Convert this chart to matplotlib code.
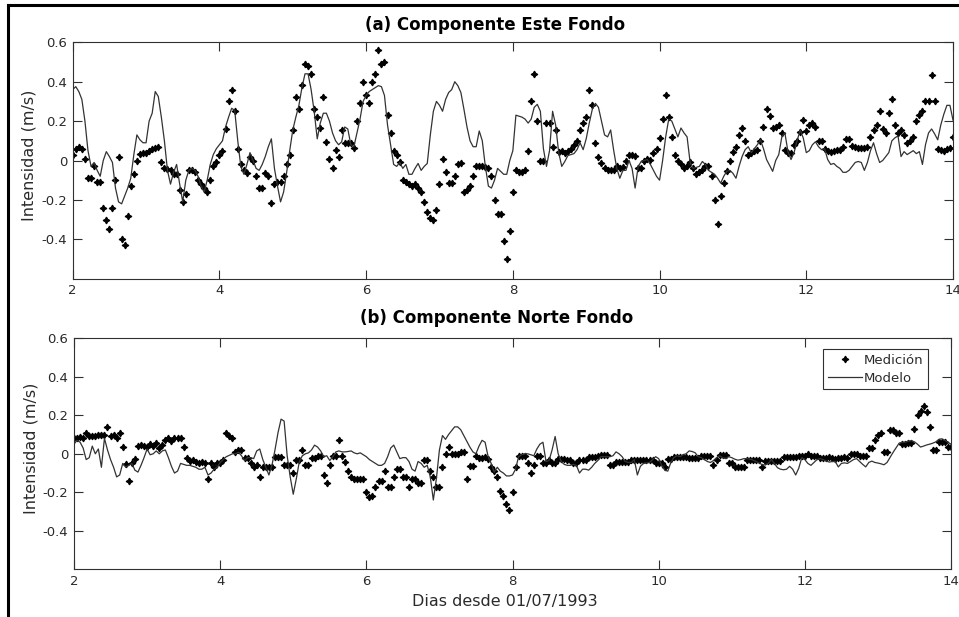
import numpy as np
import matplotlib
matplotlib.use("Agg")
import matplotlib.pyplot as plt
from matplotlib.lines import Line2D

plt.rcParams['font.family'] = ['DejaVu Sans']
plt.rcParams['axes.unicode_minus'] = False

# ---------------- data (hourly samples from day 2 to day 14) ----------------
este_medicion = [
    0.03, 0.06, 0.07, 0.06, 0.01, -0.09, -0.09, -0.03, -0.11, -0.11, -0.24, -0.30, -0.35, -0.24, -0.10, 0.02, -0.40, -0.43, -0.28, -0.13, -0.07, 0.0, 0.035, 0.04,
    0.04, 0.05, 0.06, 0.065, 0.07, -0.01, -0.04, -0.045, -0.05, -0.07, -0.07, -0.15, -0.21, -0.17, -0.05, -0.05, -0.06, -0.10, -0.12, -0.14, -0.16, -0.10, -0.03, -0.01,
    0.03, 0.05, 0.16, 0.30, 0.36, 0.25, 0.06, -0.02, -0.05, -0.065, 0.02, 0.0, -0.08, -0.14, -0.14, -0.065, -0.08, -0.215, -0.12, -0.11, -0.11, -0.08, -0.02, 0.03,
    0.155, 0.32, 0.26, 0.385, 0.49, 0.48, 0.44, 0.26, 0.22, 0.165, 0.32, 0.095, 0.01, -0.04, 0.055, 0.02, 0.155, 0.09, 0.09, 0.09, 0.065, 0.20, 0.29, 0.40,
    0.33, 0.29, 0.40, 0.44, 0.56, 0.49, 0.50, 0.23, 0.14, 0.05, 0.03, -0.01, -0.10, -0.11, -0.12, -0.13, -0.12, -0.14, -0.16, -0.21, -0.26, -0.29, -0.30, -0.25,
    -0.12, 0.01, -0.06, -0.115, -0.115, -0.08, -0.02, -0.015, -0.16, -0.15, -0.13, -0.08, -0.03, -0.03, -0.03, -0.035, -0.04, -0.08, -0.20, -0.27, -0.27, -0.41, -0.50, -0.36,
    -0.16, -0.05, -0.06, -0.06, -0.05, 0.05, 0.30, 0.44, 0.20, 0.0, 0.0, 0.19, 0.19, 0.07, 0.155, 0.045, 0.05, 0.04, 0.05, 0.06, 0.08, 0.10, 0.155, 0.19,
    0.22, 0.36, 0.28, 0.09, 0.02, -0.015, -0.04, -0.05, -0.05, -0.05, -0.03, -0.04, -0.035, 0.0, 0.03, 0.03, 0.025, -0.04, -0.04, 0.0, 0.01, 0.005, 0.04, 0.06,
    0.115, 0.21, 0.33, 0.22, 0.12, 0.03, 0.0, -0.02, -0.04, -0.03, -0.01, -0.04, -0.07, -0.06, -0.05, -0.03, -0.03, -0.08, -0.20, -0.32, -0.18, -0.115, -0.055, -0.005,
    0.045, 0.07, 0.13, 0.165, 0.10, 0.03, 0.04, 0.05, 0.055, 0.10, 0.17, 0.26, 0.225, 0.165, 0.17, 0.18, 0.14, 0.055, 0.04, 0.04, 0.08, 0.10, 0.145, 0.205,
    0.15, 0.18, 0.19, 0.17, 0.10, 0.10, 0.06, 0.05, 0.045, 0.05, 0.055, 0.055, 0.07, 0.11, 0.11, 0.075, 0.07, 0.065, 0.065, 0.065, 0.07, 0.12, 0.155, 0.18,
    0.25, 0.16, 0.14, 0.24, 0.31, 0.18, 0.14, 0.155, 0.13, 0.09, 0.10, 0.12, 0.20, 0.23, 0.25, 0.30, 0.30, 0.435, 0.30, 0.06, 0.055, 0.05, 0.06, 0.065,
    0.12,
]

este_modelo = [
    0.36, 0.375, 0.35, 0.31, 0.20, 0.05, -0.03, -0.01, -0.05, -0.08, 0.0, 0.045, 0.02, -0.01, -0.14, -0.21, -0.22, -0.18, -0.14, -0.09, 0.03, 0.13, 0.105, 0.09,
    0.09, 0.20, 0.24, 0.35, 0.325, 0.22, 0.10, -0.05, -0.12, -0.06, -0.02, -0.12, -0.21, -0.10, -0.05, -0.04, -0.05, -0.08, -0.13, -0.16, -0.10, -0.02, 0.03, 0.06,
    0.08, 0.10, 0.17, 0.22, 0.265, 0.255, 0.10, -0.03, -0.07, -0.02, 0.04, 0.0, -0.04, -0.05, -0.02, 0.02, 0.07, 0.11, -0.04, -0.13, -0.21, -0.16, -0.06, 0.05,
    0.155, 0.22, 0.28, 0.37, 0.44, 0.44, 0.36, 0.25, 0.11, 0.19, 0.24, 0.24, 0.20, 0.14, 0.10, 0.08, 0.095, 0.17, 0.16, 0.08, 0.07, 0.14, 0.21, 0.30,
    0.33, 0.35, 0.36, 0.37, 0.38, 0.375, 0.33, 0.18, 0.08, -0.02, -0.03, -0.01, -0.04, -0.02, -0.07, -0.07, -0.04, -0.015, -0.05, -0.03, -0.015, 0.13, 0.25, 0.30,
    0.28, 0.25, 0.31, 0.345, 0.36, 0.40, 0.38, 0.345, 0.26, 0.17, 0.10, 0.07, 0.07, 0.15, 0.10, -0.03, -0.13, -0.14, -0.10, -0.04, -0.055, -0.07, -0.07, 0.0,
    0.05, 0.23, 0.225, 0.22, 0.21, 0.19, 0.21, 0.27, 0.285, 0.25, 0.06, -0.03, 0.05, 0.25, 0.18, 0.04, -0.03, -0.005, 0.025, 0.03, 0.035, 0.055, 0.09, 0.055,
    0.11, 0.19, 0.26, 0.29, 0.27, 0.20, 0.13, 0.12, 0.155, 0.05, -0.04, -0.09, -0.05, -0.05, 0.0, -0.04, -0.14, -0.03, -0.005, 0.0, 0.005, -0.02, -0.05, -0.08,
    -0.10, 0.0, 0.12, 0.21, 0.20, 0.16, 0.12, 0.165, 0.14, 0.12, -0.01, -0.04, -0.035, -0.03, -0.005, -0.02, -0.05, -0.06, -0.07, -0.09, -0.115, -0.08, -0.055, -0.05,
    -0.065, -0.09, -0.03, 0.02, 0.055, 0.07, 0.04, 0.06, 0.08, 0.105, 0.06, 0.005, -0.025, -0.055, 0.0, 0.03, 0.12, 0.14, 0.045, 0.005, 0.04, 0.10, 0.155, 0.115,
    0.04, 0.05, 0.08, 0.095, 0.07, 0.055, 0.06, 0.005, -0.02, -0.015, -0.03, -0.04, -0.06, -0.06, -0.05, -0.03, -0.01, -0.005, -0.01, -0.05, -0.01, 0.05, 0.09, 0.035,
    -0.01, 0.0, 0.02, 0.04, 0.10, 0.115, 0.125, 0.02, 0.045, 0.03, 0.04, 0.05, 0.035, 0.045, -0.02, 0.08, 0.14, 0.16, 0.135, 0.105, 0.18, 0.235, 0.28, 0.28,
    0.205,
]

norte_medicion = [
    0.08, 0.08, 0.085, 0.08, 0.11, 0.09, 0.09, 0.095, 0.10, 0.10, 0.10, 0.14, 0.09, 0.10, 0.08, 0.11, 0.035, -0.055, -0.14, -0.05, -0.025, 0.04, 0.045, 0.04,
    0.035, 0.05, 0.04, 0.055, 0.03, 0.045, 0.07, 0.08, 0.065, 0.08, 0.08, 0.08, 0.035, -0.02, -0.035, -0.03, -0.04, -0.05, -0.04, -0.05, -0.13, -0.05, -0.07, -0.05,
    -0.05, -0.03, 0.11, 0.09, 0.08, 0.01, 0.02, 0.02, -0.02, -0.02, -0.05, -0.07, -0.06, -0.12, -0.07, -0.07, -0.07, -0.07, -0.015, -0.015, -0.015, -0.06, -0.06, -0.06,
    -0.10, -0.03, -0.03, 0.02, -0.06, -0.06, -0.02, -0.02, -0.01, -0.01, -0.11, -0.15, -0.06, -0.01, -0.01, 0.07, -0.01, -0.04, -0.09, -0.12, -0.13, -0.13, -0.13, -0.13,
    -0.20, -0.225, -0.22, -0.17, -0.14, -0.14, -0.09, -0.17, -0.17, -0.12, -0.08, -0.08, -0.12, -0.12, -0.17, -0.13, -0.13, -0.15, -0.15, -0.03, -0.03, -0.09, -0.12, -0.17,
    -0.17, -0.07, 0.0, 0.035, 0.0, 0.0, 0.0, 0.01, 0.01, -0.13, -0.065, -0.065, -0.01, -0.02, -0.02, -0.015, -0.025, -0.07, -0.09, -0.12, -0.195, -0.22, -0.26, -0.29,
    -0.20, -0.07, -0.01, -0.01, -0.01, -0.05, -0.10, -0.06, -0.01, -0.01, -0.05, -0.05, -0.03, -0.05, -0.05, -0.025, -0.025, -0.025, -0.03, -0.03, -0.05, -0.05, -0.03, -0.03,
    -0.03, -0.015, -0.015, -0.015, -0.01, -0.005, -0.005, -0.005, -0.06, -0.06, -0.04, -0.04, -0.04, -0.04, -0.04, -0.03, -0.03, -0.03, -0.03, -0.03, -0.03, -0.03, -0.03, -0.05,
    -0.05, -0.05, -0.07, -0.025, -0.025, -0.015, -0.015, -0.015, -0.015, -0.015, -0.02, -0.02, -0.02, -0.02, -0.01, -0.01, -0.01, -0.01, -0.06, -0.03, -0.005, -0.005, -0.005, -0.05,
    -0.05, -0.07, -0.07, -0.07, -0.07, -0.03, -0.03, -0.03, -0.03, -0.03, -0.07, -0.035, -0.035, -0.035, -0.035, -0.035, -0.035, -0.015, -0.015, -0.015, -0.015, -0.015, -0.01, -0.01,
    -0.01, 0.0, -0.01, -0.01, -0.01, -0.02, -0.02, -0.02, -0.015, -0.02, -0.025, -0.02, -0.02, -0.015, -0.02, 0.0, 0.0, 0.0, -0.01, -0.01, -0.01, 0.03, 0.03, 0.07,
    0.10, 0.11, 0.01, 0.01, 0.125, 0.125, 0.11, 0.11, 0.05, 0.05, 0.055, 0.055, 0.13, 0.20, 0.22, 0.25, 0.215, 0.14, 0.02, 0.02, 0.06, 0.06, 0.06, 0.035,
    0.035,
]

norte_modelo = [
    0.05, 0.07, 0.06, 0.03, -0.03, -0.02, 0.04, 0.0, 0.025, -0.07, 0.08, 0.02, -0.03, -0.07, -0.12, -0.11, -0.05, -0.07, -0.06, -0.05, -0.085, -0.095, -0.06, -0.02,
    0.025, -0.005, 0.0, 0.015, 0.0, 0.015, 0.02, -0.02, -0.065, -0.10, -0.09, -0.05, -0.055, -0.06, -0.06, -0.065, -0.07, -0.08, -0.08, -0.07, -0.11, -0.10, -0.08, -0.07,
    -0.045, -0.03, -0.015, -0.008, 0.0, 0.0, 0.008, -0.01, -0.035, -0.02, -0.02, -0.025, 0.015, 0.025, -0.03, -0.07, -0.11, -0.06, 0.02, 0.11, 0.18, 0.17, -0.01, -0.12,
    -0.21, -0.13, -0.04, -0.01, 0.0, 0.005, 0.02, 0.045, 0.035, 0.015, -0.015, -0.01, -0.035, -0.015, 0.01, 0.015, 0.01, 0.01, 0.012, 0.015, 0.005, 0.0, 0.005, -0.005,
    -0.015, -0.03, -0.04, -0.05, -0.06, -0.06, -0.05, -0.015, 0.03, 0.045, 0.01, -0.025, -0.02, -0.02, -0.04, -0.08, -0.09, -0.04, -0.05, -0.07, -0.06, -0.12, -0.24, -0.13,
    0.02, 0.095, 0.075, 0.10, 0.12, 0.14, 0.14, 0.125, 0.095, 0.065, 0.035, 0.01, 0.0, 0.04, 0.07, 0.06, -0.015, -0.05, -0.095, -0.07, -0.09, -0.10, -0.115, -0.115,
    -0.11, -0.08, -0.015, -0.005, 0.0, 0.0, -0.005, -0.01, 0.025, 0.05, 0.06, -0.04, -0.035, 0.02, 0.09, 0.0, -0.04, -0.055, -0.06, -0.06, -0.055, -0.06, -0.10, -0.08,
    -0.08, -0.085, -0.07, -0.05, -0.035, -0.015, -0.015, -0.015, -0.015, -0.01, 0.01, 0.0, -0.015, -0.04, -0.045, -0.045, -0.03, -0.11, -0.065, -0.05, -0.048, -0.045, -0.03, -0.015,
    -0.025, -0.06, -0.085, -0.09, -0.045, -0.02, -0.01, -0.015, -0.005, 0.0, 0.015, 0.012, 0.005, -0.015, -0.02, -0.03, -0.04, -0.045, -0.035, -0.02, -0.01, -0.02, -0.025, -0.015,
    -0.02, -0.028, -0.033, -0.03, -0.025, -0.025, -0.028, -0.033, -0.04, -0.047, -0.057, -0.058, -0.05, -0.03, -0.05, -0.072, -0.08, -0.083, -0.08, -0.065, -0.08, -0.11, -0.075, -0.02,
    -0.03, -0.05, -0.06, -0.045, -0.03, -0.025, -0.03, -0.037, -0.043, -0.04, -0.04, -0.068, -0.05, -0.047, -0.05, -0.04, -0.03, -0.025, -0.04, -0.055, -0.068, -0.045, -0.038, -0.045,
    -0.048, -0.052, -0.057, -0.045, -0.018, 0.008, 0.032, 0.056, 0.06, 0.06, 0.066, 0.068, 0.062, 0.05, 0.035, 0.04, 0.046, 0.05, 0.055, 0.062, 0.075, 0.078, 0.07, 0.06,
    0.05,
]

titulos = ["(a) Componente Este Fondo", "(b) Componente Norte Fondo"]
ylabel_txt = "Intensidad (m/s)"
xlabel_txt = "Dias desde 01/07/1993"
leyenda = ["Medición", "Modelo"]
xticks = [2, 4, 6, 8, 10, 12, 14]
yticks = [-0.4, -0.2, 0, 0.2, 0.4, 0.6]
yticklabels = ["-0.4", "-0.2", "0", "0.2", "0.4", "0.6"]

# ---------------- figure ----------------
W, H = 959, 617
fig = plt.figure(figsize=(W / 100, H / 100), dpi=100)
fig.patch.set_facecolor('white')

def fx(px):
    return px / W

def fy(py):
    return 1 - py / H

ax_top = fig.add_axes([fx(72.7), fy(278.7), fx(953) - fx(72.7), fy(42.3) - fy(278.7)])
ax_bot = fig.add_axes([fx(74), fy(569.3), fx(951) - fx(74), fy(338.3) - fy(569.3)])

spine_col = '#303030'
txt_col = '#2a2a2a'
marker = (4, 1, 0)

panels = [
    (ax_top, este_medicion, este_modelo),
    (ax_bot, norte_medicion, norte_modelo),
]

for ax, med, mod in panels:
    tm = 2 + np.arange(len(med)) / 24.0
    tl = 2 + np.arange(len(mod)) / 24.0
    ax.plot(tm, med, linestyle='none', marker=marker, markersize=4.8,
            color='black', markeredgewidth=0.9, label=leyenda[0])
    ax.plot(tl, mod, color='#333333', linewidth=0.9, label=leyenda[1])
    ax.set_xlim(2, 14)
    ax.set_ylim(-0.6, 0.6)
    ax.set_xticks(xticks)
    ax.set_xticklabels([str(v) for v in xticks])
    ax.set_yticks(yticks)
    ax.set_yticklabels(yticklabels)
    ax.tick_params(direction='in', length=6.3, width=0.8, color=spine_col,
                   labelsize=9.5, labelcolor=txt_col, top=True, right=True, pad=4)
    for s in ax.spines.values():
        s.set_color(spine_col)
        s.set_linewidth(0.8)

# titles
fig.text(fx(495), fy(25), titulos[0], ha='center', va='center', fontsize=12,
         fontweight='bold', color='black')
fig.text(fx(497), fy(318), titulos[1], ha='center', va='center', fontsize=12,
         fontweight='bold', color='black')

# y labels
fig.text(fx(29), fy(155), ylabel_txt, rotation=90, ha='center', va='center',
         fontsize=11.5, color=txt_col)
fig.text(fx(31.5), fy(448), ylabel_txt, rotation=90, ha='center', va='center',
         fontsize=11.5, color=txt_col)

# x label
fig.text(fx(505), fy(601.5), xlabel_txt, ha='center', va='center',
         fontsize=11.5, color=txt_col)

# legend
leg = ax_bot.legend(loc='upper right', bbox_to_anchor=(0.974, 0.952),
                    borderaxespad=0, fancybox=False, framealpha=1,
                    edgecolor='#303030', fontsize=9.5, numpoints=1,
                    handlelength=2.6, handletextpad=0.15, borderpad=0.35,
                    labelspacing=0.35)
leg.get_frame().set_linewidth(0.8)
for txt in leg.get_texts():
    txt.set_color(txt_col)

# outer frame (top and left edges)
fig.add_artist(Line2D([fx(8.3), 1.0], [fy(5), fy(5)], color='black', linewidth=2.2))
fig.add_artist(Line2D([fx(8.3), fx(8.3)], [fy(5), 0.0], color='black', linewidth=2.2))

fig.savefig('out.png', dpi=100, facecolor='white')
